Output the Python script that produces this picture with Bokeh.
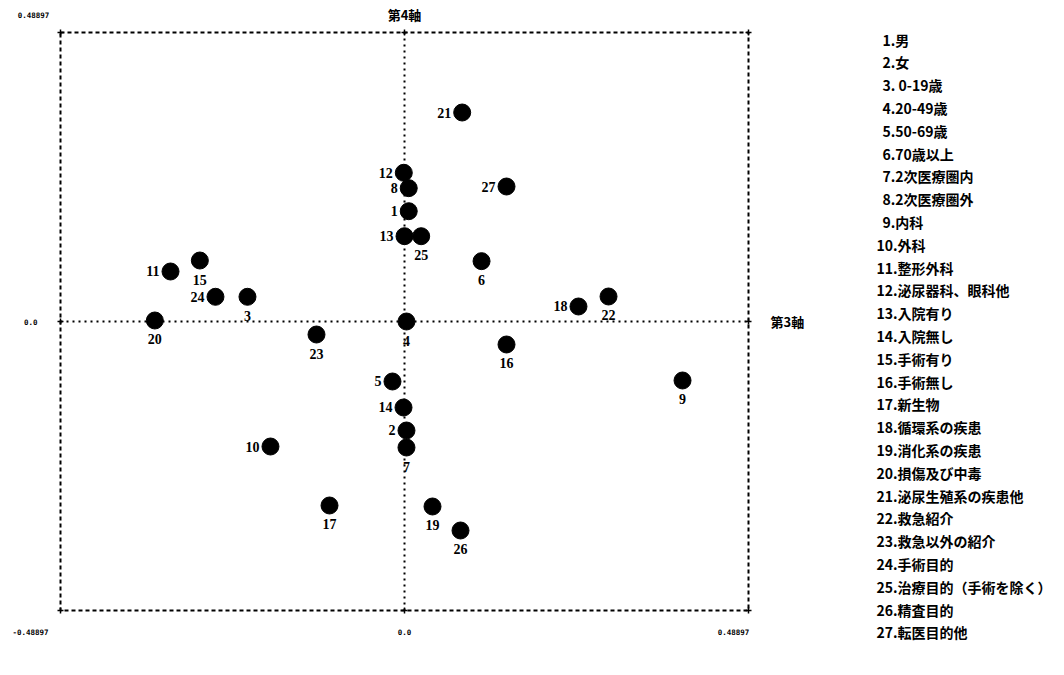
from bokeh.plotting import figure
from bokeh.models import Range1d, ColumnDataSource, LabelSet, Label
from bokeh.layouts import row
from bokeh.core.properties import value
from bokeh.embed import file_html
from bokeh.resources import INLINE

LIM = 0.48897

ids = list(range(1, 28))
dim3 = [0.0060, 0.0028, -0.2232, 0.0028, -0.0171, 0.1095, 0.0028, 0.0060, 0.3952, -0.1905,
        -0.3326, -0.0010, 0.0000, -0.0014, -0.2909, 0.1450, -0.1066, 0.2473, 0.0398, -0.3549,
        0.0820, 0.2900, -0.1251, -0.2687, 0.0237, 0.0796, 0.1450]
dim4 = [0.1866, -0.1844, 0.0418, 0.0000, -0.1015, 0.1021, -0.2132, 0.2256, -0.0998, -0.2115,
        0.0846, 0.2516, 0.1443, -0.1455, 0.1032, -0.0389, -0.3113, 0.0254, -0.3130, 0.0017,
        0.3536, 0.0423, -0.0220, 0.0418, 0.1443, -0.3536, 0.2284]
label_side = ["L", "L", "B", "B", "L", "B", "B", "L", "B", "L",
              "L", "L", "L", "L", "B", "B", "B", "L", "B", "B",
              "L", "B", "B", "L", "B", "B", "L"]
names = ["男", "女", " 0-19歳", "20-49歳", "50-69歳", "70歳以上", "2次医療圏内", "2次医療圏外",
         "内科", "外科", "整形外科", "泌尿器科、眼科他", "入院有り", "入院無し", "手術有り",
         "手術無し", "新生物", "循環系の疾患", "消化系の疾患", "損傷及び中毒", "泌尿生殖系の疾患他",
         "救急紹介", "救急以外の紹介", "手術目的", "治療目的（手術を除く）", "精査目的", "転医目的他"]
axis3_title = "第3軸"
axis4_title = "第4軸"
tick_text = ["0.48897", "0.0", "-0.48897", "0.0", "0.48897"]

# canvas geometry (pixels)
W, H = 820, 647
FL, FR, FT, FB = 60, 748, 32, 610
sx = (FR - FL) / (2 * LIM)
sy = (FB - FT) / (2 * LIM)

p = figure(width=W, height=H, title=None,
           x_range=Range1d(-LIM - FL / sx, LIM + (W - FR) / sx),
           y_range=Range1d(-LIM - (H - FB) / sy, LIM + FT / sy),
           x_axis_location=None, y_axis_location=None,
           output_backend="svg", toolbar_location=None, min_border=0)
p.grid.visible = False
p.outline_line_color = None

# dashed frame
p.line([-LIM, LIM, LIM, -LIM, -LIM], [LIM, LIM, -LIM, -LIM, LIM],
       line_color="black", line_width=2, line_dash="4 3")
# dotted center lines
p.segment(x0=[-LIM, 0], y0=[0, -LIM], x1=[LIM, 0], y1=[0, LIM],
          line_color="black", line_width=2, line_dash="2 4")
# small crosses on frame
p.scatter([-LIM, 0, LIM, -LIM, LIM, -LIM, 0, LIM], [LIM, LIM, LIM, 0, 0, -LIM, -LIM, -LIM],
          marker="cross", size=6, line_color="black", line_width=1.5)

src = ColumnDataSource(dict(
    x=dim3, y=dim4, lab=[str(i) for i in ids],
    xo=[-11 if s == "L" else 0 for s in label_side],
    yo=[0 if s == "L" else -19 for s in label_side],
    al=["right" if s == "L" else "center" for s in label_side],
))
p.scatter("x", "y", source=src, size=17, fill_color="black", line_color="black")
p.add_layout(LabelSet(x="x", y="y", text="lab", source=src, x_offset="xo", y_offset="yo",
                      text_align="al", text_baseline="middle",
                      text_font=value("Liberation Sans Narrow"), text_font_style="bold",
                      text_font_size="14px", text_color="black"))

tick_font = dict(text_font="DejaVu Sans Mono", text_font_style="bold",
                 text_font_size="7.5px", text_color="black", text_baseline="middle")
p.add_layout(Label(x=-LIM, y=LIM, x_offset=-27, y_offset=18, text=tick_text[0],
                   text_align="center", **tick_font))
p.add_layout(Label(x=-LIM, y=0, x_offset=-23, y_offset=0, text=tick_text[1],
                   text_align="right", **tick_font))
p.add_layout(Label(x=-LIM, y=-LIM, x_offset=-30, y_offset=-21, text=tick_text[2],
                   text_align="center", **tick_font))
p.add_layout(Label(x=0, y=-LIM, x_offset=0, y_offset=-21, text=tick_text[3],
                   text_align="center", **tick_font))
p.add_layout(Label(x=LIM, y=-LIM, x_offset=-15, y_offset=-21, text=tick_text[4],
                   text_align="center", **tick_font))

title_font = dict(text_font="Noto Sans CJK JP", text_font_style="bold",
                  text_font_size="13px", text_color="black", text_baseline="middle")
p.add_layout(Label(x=0, y=LIM, y_offset=18, text=axis4_title, text_align="center", **title_font))
p.add_layout(Label(x=LIM, y=0, x_offset=22, text=axis3_title, text_align="left", **title_font))

# legend panel
LW = 236
lg = figure(width=LW, height=H, title=None, x_range=Range1d(0, LW), y_range=Range1d(H, 0),
            x_axis_location=None, y_axis_location=None,
            output_backend="svg", toolbar_location=None, min_border=0)
lg.grid.visible = False
lg.outline_line_color = None
leg_text = [f"{i}.{n}" for i, n in zip(ids, names)]
leg_x = [56 if i >= 10 else 62 for i in ids]
leg_y = [39 + k * 22.8 for k in range(len(ids))]
lg.text(x=leg_x, y=leg_y, text=leg_text, text_font=value("Noto Sans CJK JP"),
        text_font_style="bold", text_font_size="14px", text_color="black",
        text_baseline="middle", text_align="left")

layout = row(p, lg)
open("out.html", "w").write(file_html(layout, INLINE))
